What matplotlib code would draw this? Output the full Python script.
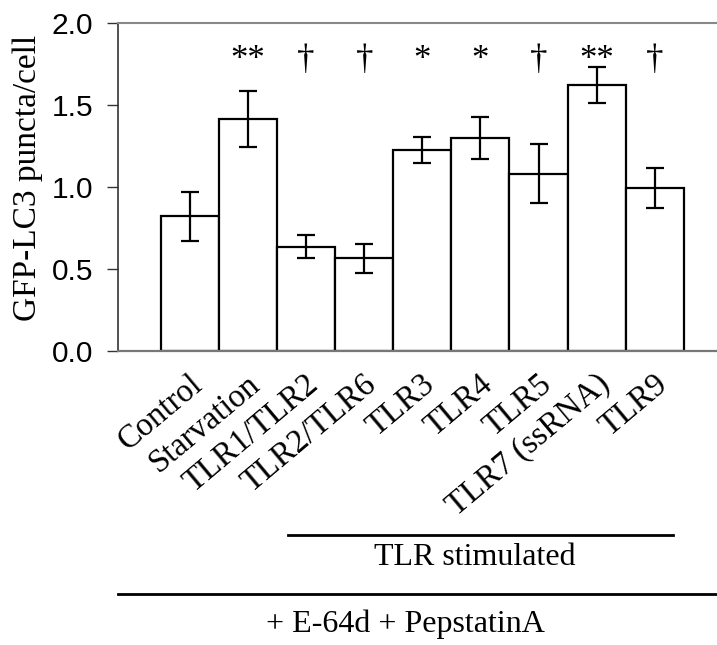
import matplotlib
matplotlib.use("Agg")
import matplotlib.pyplot as plt
import matplotlib.transforms as mtransforms
from matplotlib.lines import Line2D
import numpy as np

categories = ["Control", "Starvation", "TLR1/TLR2", "TLR2/TLR6", "TLR3",
              "TLR4", "TLR5", "TLR7 (ssRNA)", "TLR9"]
values = [0.82, 1.415, 0.635, 0.565, 1.225, 1.30, 1.08, 1.625, 0.995]
errors = [0.15, 0.17, 0.07, 0.088, 0.08, 0.13, 0.18, 0.11, 0.124]
marks = ["", "**", "\u2020", "\u2020", "*", "*", "\u2020", "**", "\u2020"]
yticks = [0.0, 0.5, 1.0, 1.5, 2.0]

W, H = 717, 645
fig = plt.figure(figsize=(W / 100, H / 100), dpi=100)
ax = fig.add_axes([118 / W, 1 - 350.7 / H, 1 - 118 / W, (350.7 - 23.3) / H])

serif = "Liberation Serif"
sans = "Liberation Sans"

x = np.arange(len(categories))
ax.bar(x, values, width=1.0, color="white", edgecolor="black", linewidth=1.6,
       zorder=2)
ax.errorbar(x, values, yerr=errors, fmt="none", ecolor="black", elinewidth=1.6,
            capsize=6.5, capthick=1.6, zorder=3)

for xi, m in zip(x, marks):
    if m:
        ax.text(xi, 1.875, m, ha="center", va="top", fontsize=25,
                family=serif, zorder=4)

ax.set_xlim(-1.235, 9.07)
ax.set_ylim(0, 2.0)
ax.set_yticks(yticks)
ax.set_yticklabels([f"{v:.1f}" for v in yticks], fontsize=21.5, family=sans)
ax.tick_params(axis="y", direction="out", length=8, width=1.0, pad=10,
               color="#333333")

ax.set_xticks(x)
ax.set_xticklabels(categories, rotation=40, ha="right", va="top",
                   rotation_mode="anchor", fontsize=23.5, family=serif)
ax.tick_params(axis="x", length=0, pad=13)
offset = mtransforms.ScaledTranslation(-1 / 100, 0, fig.dpi_scale_trans)
for lab in ax.get_xticklabels():
    lab.set_transform(lab.get_transform() + offset)

ax.spines["right"].set_visible(False)
ax.spines["top"].set_color("#888888")
ax.spines["top"].set_linewidth(1.5)
ax.spines["left"].set_color("#333333")
ax.spines["left"].set_linewidth(1.2)
ax.spines["bottom"].set_color("#777777")
ax.spines["bottom"].set_linewidth(1.6)


def px(xp, yp):
    return xp / W, 1 - yp / H


fig.text(*px(28, 178), "GFP-LC3 puncta/cell", rotation=90, ha="center",
         va="center", fontsize=24, family=serif)

l1 = Line2D([288 / W, 673 / W], [1 - 535 / H, 1 - 535 / H], color="black",
            linewidth=2.0, transform=fig.transFigure)
l2 = Line2D([118 / W, 717 / W], [1 - 594 / H, 1 - 594 / H], color="black",
            linewidth=2.0, transform=fig.transFigure)
fig.add_artist(l1)
fig.add_artist(l2)
fig.text(*px(475, 565), "TLR stimulated", ha="center", va="baseline",
         fontsize=23, family=serif)
fig.text(*px(405, 632), "+ E-64d + PepstatinA", ha="center", va="baseline",
         fontsize=23, family=serif)

fig.savefig("out.png", dpi=100)
